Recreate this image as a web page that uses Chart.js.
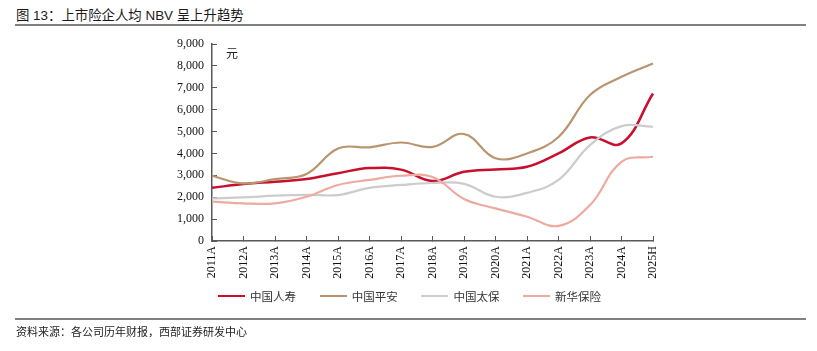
<!DOCTYPE html>
<html>
<head>
<meta charset="utf-8">
<script src="https://cdn.jsdelivr.net/npm/chart.js@4.4.1/dist/chart.umd.min.js"></script>
<style>
  html, body { margin: 0; padding: 0; background: #fff; }
  #wrap { position: relative; width: 817px; height: 351px; overflow: hidden; }
  #c { position: absolute; left: 0; top: 0; }
  .title { position: absolute; left: 16px; top: 4px; font: 13.4px "Liberation Sans", "Noto Sans CJK SC", sans-serif; color: #1a1a1a; white-space: nowrap; }
  .rule { position: absolute; left: 15px; width: 791px; background: #808080; }
  .foot { position: absolute; left: 16px; top: 323px; font: 11px "Noto Sans CJK SC", sans-serif; color: #222; white-space: nowrap; }
  .unit { position: absolute; left: 226px; top: 44px; font: 12px "Noto Sans CJK SC", sans-serif; color: #222; }
  .lg { position: absolute; top: 288px; height: 16px; }
  .lg .ln { position: absolute; left: 0; top: 6.75px; width: 27px; height: 2.5px; }
  .lg .tx { position: absolute; left: 32px; top: 0; line-height: 16px; font: 11.5px "Noto Sans CJK SC", sans-serif; color: #333; white-space: nowrap; }
</style>
</head>
<body>
<div id="wrap">
  <div class="title">图 13：上市险企人均 NBV 呈上升趋势</div>
  <div class="rule" style="top:24px;height:2px;"></div>
  <canvas id="c" width="817" height="351"></canvas>
  <div class="unit">元</div>
  <div id="legend"></div>
  <div class="rule" style="top:318px;height:2px;"></div>
  <div class="foot">资料来源：各公司历年财报，西部证券研发中心</div>
</div>
<script>
const categories = ["2011A","2012A","2013A","2014A","2015A","2016A","2017A","2018A","2019A","2020A","2021A","2022A","2023A","2024A","2025H"];
const seriesNames = ["中国人寿","中国平安","中国太保","新华保险"];
const chinaLife   = [2430, 2600, 2710, 2830, 3100, 3330, 3260, 2740, 3160, 3270, 3390, 4000, 4730, 4460, 6740];
const pingAn      = [2980, 2630, 2830, 3060, 4230, 4280, 4500, 4300, 4890, 3780, 4000, 4750, 6670, 7500, 8110];
const cpic        = [1950, 1990, 2070, 2110, 2100, 2430, 2560, 2650, 2610, 2020, 2200, 2790, 4380, 5250, 5220];
const newChina    = [1800, 1720, 1720, 2020, 2560, 2790, 2980, 2920, 1920, 1490, 1110, 690, 1640, 3620, 3850];
const yMin = 0, yMax = 9000, yStep = 1000;

const colors = ["#C8102E", "#B8956E", "#CCCCCC", "#EDAAA0"];
const widths = [2.5, 2.2, 2.2, 2.2];
const values = [chinaLife, pingAn, cpic, newChina];

const axisColor = "#595959";
const chart = new Chart(document.getElementById("c"), {
  type: "line",
  data: {
    labels: categories,
    datasets: seriesNames.map((n, i) => ({
      label: n,
      data: values[i],
      borderColor: colors[i],
      backgroundColor: colors[i],
      borderWidth: widths[i],
      pointRadius: 0,
      tension: 0.4,
      fill: false,
      order: -i
    }))
  },
  options: {
    responsive: false,
    animation: false,
    layout: { padding: { left: 167, right: 164, top: 44, bottom: 65 } },
    plugins: {
      tooltip: { enabled: false },
      legend: { display: false }
    },
    scales: {
      x: {
        offset: false,
        grid: { display: true, drawOnChartArea: false, drawTicks: true, tickLength: -5, color: axisColor, lineWidth: 1 },
        border: { display: true, color: axisColor, width: 1.5 },
        ticks: {
          autoSkip: false, minRotation: 90, maxRotation: 90, padding: 10,
          color: "#111",
          font: { family: "'Liberation Serif', 'Times New Roman', serif", size: 12 }
        },
        afterFit: s => { s.height = 45; }
      },
      y: {
        min: yMin, max: yMax,
        grid: { display: true, drawOnChartArea: false, drawTicks: true, tickLength: -5, color: axisColor, lineWidth: 1 },
        border: { display: true, color: axisColor, width: 1.5 },
        ticks: {
          stepSize: yStep, padding: 13,
          color: "#111",
          font: { family: "'Liberation Serif', 'Times New Roman', serif", size: 12 },
          callback: v => v.toLocaleString("en-US")
        },
        afterFit: s => { s.width = 45; }
      }
    }
  }
});

// HTML legend built from the chart's datasets
const legendEl = document.getElementById("legend");
chart.data.datasets.forEach((ds, i) => {
  const item = document.createElement("div");
  item.className = "lg";
  item.style.left = (218 + i * 101.7) + "px";
  const ln = document.createElement("div");
  ln.className = "ln";
  ln.style.background = ds.borderColor;
  const tx = document.createElement("div");
  tx.className = "tx";
  tx.textContent = ds.label;
  item.appendChild(ln);
  item.appendChild(tx);
  legendEl.appendChild(item);
});
</script>
</body>
</html>
